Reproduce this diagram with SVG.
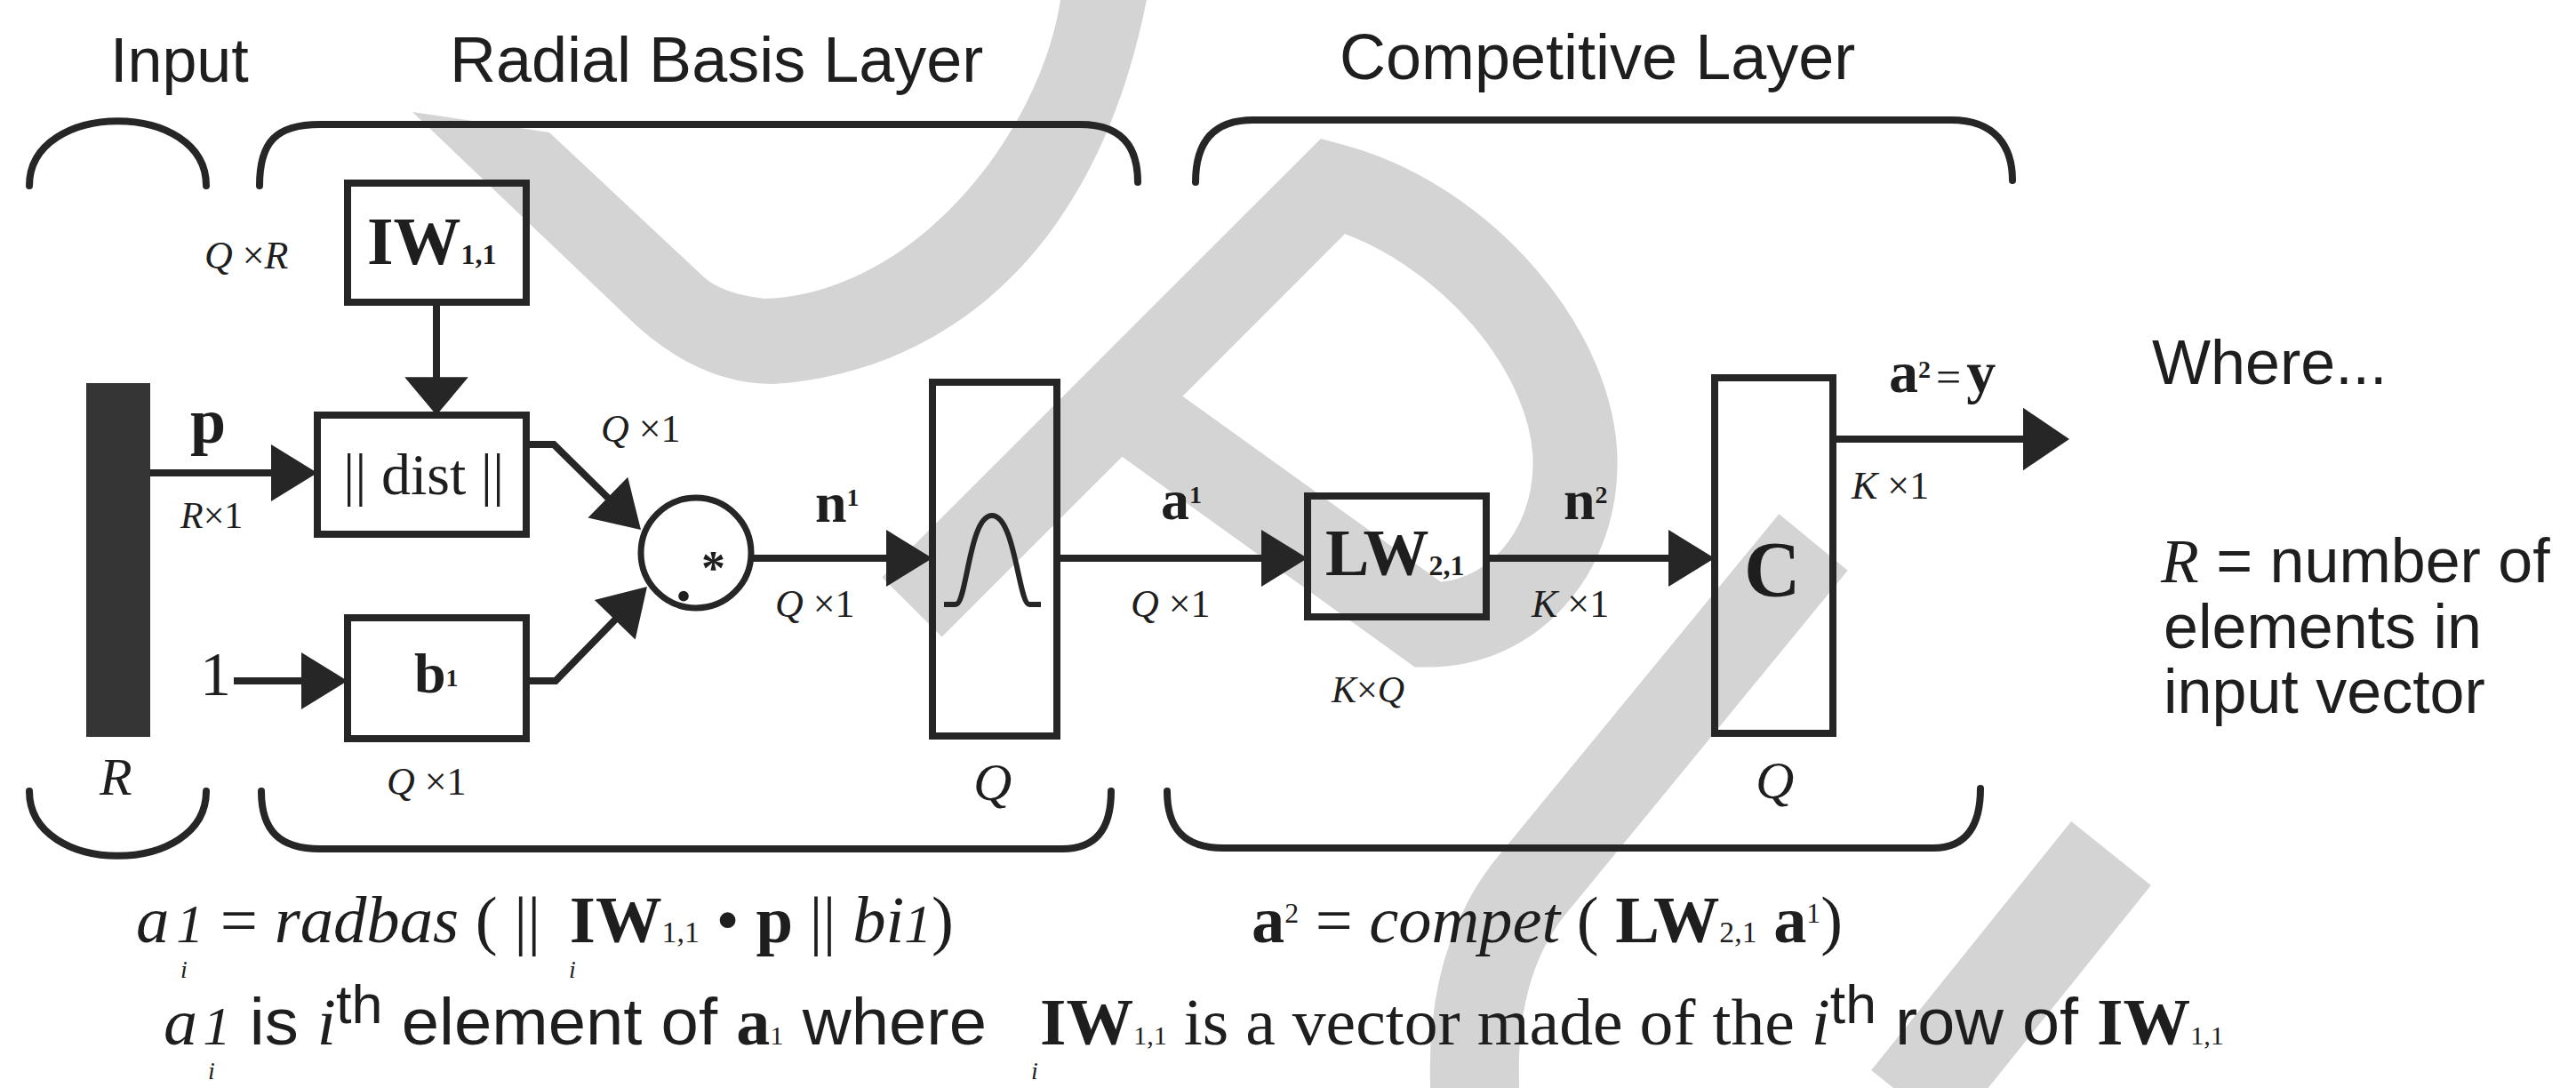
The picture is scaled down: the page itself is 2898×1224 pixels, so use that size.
<svg xmlns="http://www.w3.org/2000/svg" width="2898" height="1224" viewBox="0 0 2898 1224">
<defs>
<style>
.sans{font-family:"Liberation Sans",Arial,sans-serif;fill:#1e1e1e}
.serif{font-family:"Liberation Serif","Times New Roman",serif;fill:#1e1e1e}
.it{font-style:italic}
.b{font-weight:bold}
.box{fill:none;stroke:#262626;stroke-width:8}
.ln{fill:none;stroke:#262626;stroke-width:8}
.brace{fill:none;stroke:#262626;stroke-width:8;stroke-linecap:round}
.wm{fill:#d4d4d4}
.wms{fill:none;stroke:#d4d4d4}
.dim{font-size:44px}
</style>
<path id="ah" d="M0,0 L-52,-32 L-52,32 Z" fill="#262626"/>
</defs>
<rect width="2898" height="1224" fill="#ffffff"/>
<g id="watermark">
<path class="wm" d="M464,126 L700,351 Q780,432 870,432 C1050,420 1230,300 1290,0 L1193,0 C1170,150 1030,330 860,336 Q810,330 790,310 L618,149 Z"/>
<path class="wms" stroke-width="95" stroke-linejoin="miter" d="M1026,683 L1500,209 C1650,250 1775,400 1772,525 C1770,625 1700,703 1607,703 L1262,455"/>
<path class="wms" stroke-width="100" d="M2040,610 L1720,1000 Q1650,1090 1660,1240"/>
<path class="wms" stroke-width="115" d="M2375,960 L2150,1240"/>
</g>
<g id="braces">
<path class="brace" d="M33,209 C33,112 232,112 232,209"/>
<path class="brace" d="M292,209 C292,160 310,140 360,140 L1215,140 C1262,140 1280,165 1280,205"/>
<path class="brace" d="M1345,205 C1345,160 1365,135 1410,135 L2195,135 C2245,135 2264,165 2264,203"/>
<path class="brace" d="M33,890 C33,987 232,987 232,890"/>
<path class="brace" d="M294,890 C294,935 315,955 360,955 L1195,955 C1235,955 1250,930 1250,890"/>
<path class="brace" d="M1313,890 C1313,930 1330,954 1376,954 L2175,954 C2215,954 2228,925 2228,887"/>
</g>
<g id="headings">
<text class="sans" x="124" y="92" font-size="70">Input</text>
<text class="sans" x="506" y="92" font-size="72">Radial Basis Layer</text>
<text class="sans" x="1507" y="89" font-size="72">Competitive Layer</text>
</g>
<g id="node-input">
<rect x="97" y="431" width="72" height="398" fill="#353535"/>
<text class="serif it" x="112" y="894" font-size="60">R</text>
</g>
<g id="node-iw">
<rect class="box" x="391" y="206" width="201" height="134"/>
<text class="serif b" x="413" y="297" font-size="76">IW<tspan font-size="32">1,1</tspan></text>
<text class="serif dim" x="230" y="302"><tspan class="it">Q</tspan> ×<tspan class="it">R</tspan></text>
</g>
<g id="node-dist">
<rect class="box" x="357" y="467" width="235" height="134"/>
<text class="serif" x="386" y="556" font-size="66">|| dist ||</text>
</g>
<g id="node-bias">
<rect class="box" x="391" y="695" width="201" height="136"/>
<text class="serif b" x="466" y="779" font-size="64">b<tspan font-size="28" dy="-7">1</tspan></text>
<text class="serif" x="225" y="782" font-size="70">1</text>
<text class="serif dim" x="435" y="894"><tspan class="it">Q</tspan> ×1</text>
</g>
<g id="node-mult">
<circle cx="783" cy="622" r="62" fill="none" stroke="#262626" stroke-width="7"/>
<text class="serif b" x="789" y="657" font-size="54">*</text>
<text class="serif b" x="760" y="676" font-size="72">.</text>
</g>
<g id="node-radbas">
<rect class="box" x="1049" y="430" width="140" height="398"/>
<path fill="none" stroke="#262626" stroke-width="6" d="M1062,680 L1075,680 C1088,680 1090,580 1116,580 C1142,580 1146,680 1158,680 L1171,680"/>
<text class="serif it" x="1095" y="900" font-size="60">Q</text>
</g>
<g id="node-lw">
<rect class="box" x="1471" y="558" width="201" height="136"/>
<text class="serif b" x="1491" y="647" font-size="74">LW<tspan font-size="32">2,1</tspan></text>
<text class="serif" x="1498" y="790" font-size="42"><tspan class="it">K</tspan>×<tspan class="it">Q</tspan></text>
</g>
<g id="node-compet">
<rect class="box" x="1929" y="425" width="133" height="400"/>
<text class="serif b" x="1962" y="670" font-size="88">C</text>
<text class="serif it" x="1975" y="898" font-size="60">Q</text>
</g>
<g id="connectors">
<line class="ln" x1="169" y1="532" x2="310" y2="532"/>
<use href="#ah" transform="translate(357,532)"/>
<line class="ln" x1="491" y1="340" x2="491" y2="425"/>
<use href="#ah" transform="translate(491,467) rotate(90) scale(0.82,1.12)"/>
<line class="ln" x1="263" y1="766" x2="345" y2="766"/>
<use href="#ah" transform="translate(391,766)"/>
<polyline class="ln" points="592,500 623,500 692,568"/>
<use href="#ah" transform="translate(721,596) rotate(44.4)"/>
<polyline class="ln" points="592,766 625,766 700,689"/>
<use href="#ah" transform="translate(728,660) rotate(-45.8)"/>
<line class="ln" x1="845" y1="628" x2="1000" y2="628"/>
<use href="#ah" transform="translate(1049,628)"/>
<line class="ln" x1="1189" y1="628" x2="1425" y2="628"/>
<use href="#ah" transform="translate(1471,628)"/>
<line class="ln" x1="1672" y1="628" x2="1880" y2="628"/>
<use href="#ah" transform="translate(1929,628)"/>
<line class="ln" x1="2062" y1="494" x2="2280" y2="494"/>
<use href="#ah" transform="translate(2328,494) scale(1,1.1)"/>
</g>
<g id="connector-labels">
<text class="serif b" x="214" y="498" font-size="72">p</text>
<text class="serif" x="203" y="594" font-size="42"><tspan class="it">R</tspan>×1</text>
<text class="serif dim" x="676" y="497"><tspan class="it">Q</tspan> ×1</text>
<text class="serif b" x="917" y="587" font-size="64">n<tspan font-size="28" dy="-18">1</tspan></text>
<text class="serif dim" x="872" y="694"><tspan class="it">Q</tspan> ×1</text>
<text class="serif b" x="1306" y="584" font-size="64">a<tspan font-size="28" dy="-18">1</tspan></text>
<text class="serif dim" x="1272" y="694"><tspan class="it">Q</tspan> ×1</text>
<text class="serif b" x="1759" y="584" font-size="64">n<tspan font-size="28" dy="-18">2</tspan></text>
<text class="serif dim" x="1723" y="694"><tspan class="it">K</tspan> ×1</text>
<text class="serif b" x="2125" y="441" font-size="66">a<tspan font-size="28" dy="-16">2</tspan><tspan font-weight="normal" font-size="50" dx="6" dy="16">=</tspan><tspan dx="6">y</tspan></text>
<text class="serif dim" x="2083" y="561"><tspan class="it">K</tspan> ×1</text>
</g>
<g id="legend">
<text class="sans" x="2421" y="432" font-size="70">Where...</text>
<text class="sans" x="2431" y="655" font-size="70"><tspan class="serif it">R</tspan> = number of</text>
<text class="sans" x="2434" y="729" font-size="70">elements in</text>
<text class="sans" x="2434" y="802" font-size="70">input vector</text>
</g>
<g id="equations">
<text class="serif" x="153" y="1060" font-size="75" textLength="920" lengthAdjust="spacingAndGlyphs"><tspan class="it">a</tspan><tspan class="it" font-size="62" dx="8">1</tspan> = <tspan class="it">radbas</tspan> ( || <tspan class="b" dx="14">IW</tspan><tspan font-size="34">1,1</tspan> • <tspan class="b">p</tspan> || <tspan class="it">bi</tspan><tspan class="it" font-size="62">1</tspan>)</text>
<text class="serif it" x="203" y="1100" font-size="28">i</text>
<text class="serif it" x="640" y="1100" font-size="28">i</text>
<text class="serif" x="1408" y="1060" font-size="75" textLength="665" lengthAdjust="spacingAndGlyphs"><tspan class="b">a</tspan><tspan font-size="32" dy="-22">2</tspan><tspan dy="22"> = </tspan><tspan class="it">compet</tspan> ( <tspan class="b">LW</tspan><tspan font-size="34">2,1</tspan> <tspan class="b">a</tspan><tspan font-size="32" dy="-22">1</tspan><tspan dy="22">)</tspan></text>
<text class="serif" x="184" y="1175" font-size="75" textLength="926" lengthAdjust="spacingAndGlyphs"><tspan class="it">a</tspan><tspan class="it" font-size="62" dx="6">1</tspan><tspan class="sans"> is </tspan><tspan class="it">i</tspan><tspan class="sans" font-size="62" dy="-24">th</tspan><tspan class="sans" dy="24"> element of </tspan><tspan class="b">a</tspan><tspan font-size="30">1</tspan><tspan class="sans"> where</tspan></text>
<text class="serif" x="1170" y="1175" font-size="75" textLength="1332" lengthAdjust="spacingAndGlyphs"><tspan class="b">IW</tspan><tspan font-size="30">1,1</tspan> is a vector made of the <tspan class="it">i</tspan><tspan class="sans" font-size="62" dy="-24">th</tspan><tspan class="sans" dy="24"> row of </tspan><tspan class="b">IW</tspan><tspan font-size="30">1,1</tspan></text>
<text class="serif it" x="234" y="1214" font-size="28">i</text>
<text class="serif it" x="1160" y="1214" font-size="28">i</text>
</g>
</svg>
